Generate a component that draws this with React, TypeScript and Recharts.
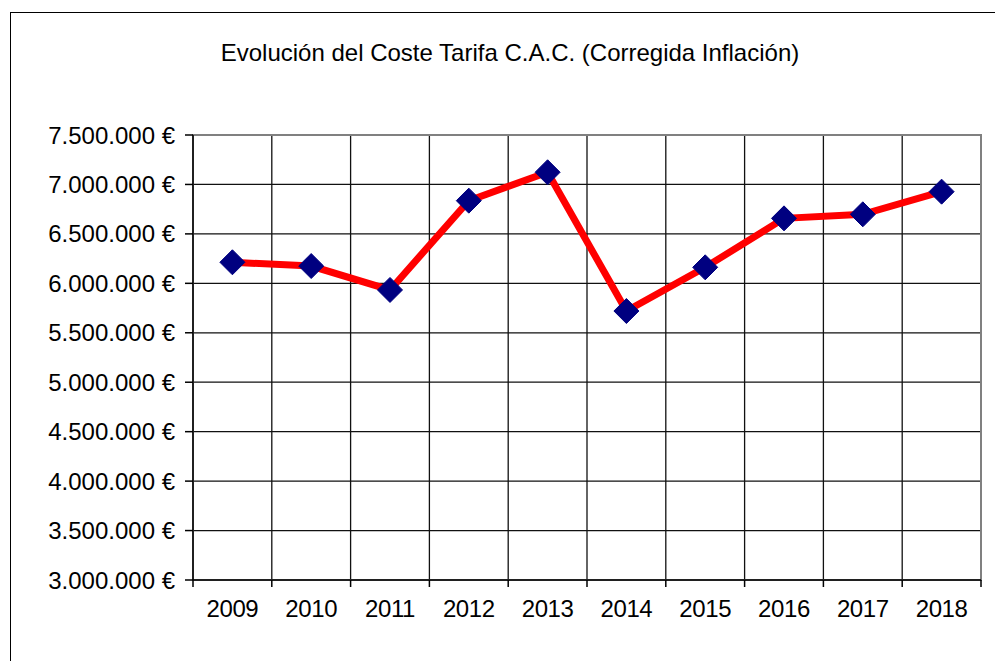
import React from 'react';
import { LineChart, Line, XAxis, YAxis, CartesianGrid, ReferenceArea } from 'recharts';

const years = ['2009', '2010', '2011', '2012', '2013', '2014', '2015', '2016', '2017', '2018'];
const costs = [6213000, 6175000, 5933000, 6836000, 7123000, 5720000, 6162000, 6657000, 6698000, 6927000];
const yTicks = [3000000, 3500000, 4000000, 4500000, 5000000, 5500000, 6000000, 6500000, 7000000, 7500000];
const xBoundaries = years.map((_, i) => i).concat([years.length]);
const title = 'Evolución del Coste Tarifa C.A.C. (Corregida Inflación)';

const data = years.map((year, i) => ({ pos: i + 0.5, year, cost: costs[i] }));

const W = 995;
const H = 661;
const LEFT = 193;
const RIGHT = 14;
const TOP = 135;
const BAND = (W - LEFT - RIGHT) / years.length;
const FONT = '"Liberation Sans", Arial, sans-serif';
const FS = 24;

const fmt = (v: number) => String(v).replace(/\B(?=(\d{3})+(?!\d))/g, '.') + ' €';

const YearTick = (props: any) => {
  const { x, y, payload } = props;
  const idx = payload.value;
  if (idx >= years.length) return null;
  return (
    <text x={x + BAND / 2} y={y + 28} textAnchor="middle" fontFamily={FONT} fontSize={FS} letterSpacing={-0.4} fill="#000">
      {years[idx]}
    </text>
  );
};

const Diamond = (props: any) => {
  const { cx, cy, index } = props;
  if (cx == null || cy == null) return null;
  const r = 12.5;
  return (
    <path
      key={`d-${index}`}
      d={`M${cx},${cy - r} L${cx + r},${cy} L${cx},${cy + r} L${cx - r},${cy} Z`}
      fill="#000080"
      stroke="#000080"
      strokeWidth={1}
    />
  );
};

export default function App() {
  return (
    <div style={{ position: 'absolute', left: 0, top: 0, width: W, height: H, overflow: 'hidden', background: '#fff' }}>
      <div
        style={{
          position: 'absolute',
          left: 10,
          top: 12,
          width: 1100,
          height: 800,
          border: '1.5px solid #000',
          boxSizing: 'border-box',
        }}
      />
      <div
        style={{
          position: 'absolute',
          left: 0,
          top: 41,
          width: 1020,
          textAlign: 'center',
          fontFamily: FONT,
          fontSize: FS,
          lineHeight: `${FS}px`,
          color: '#000',
          whiteSpace: 'nowrap',
        }}
      >
        {title}
      </div>
      <div style={{ position: 'absolute', left: 0, top: 0 }}>
        <LineChart width={W} height={H} data={data} margin={{ top: TOP, right: RIGHT, left: 0, bottom: 21 }}>
          <CartesianGrid stroke="#111" strokeWidth={1.3} />
          <ReferenceArea x1={0} x2={years.length} y1={3000000} y2={7500000} fill="none" stroke="#808080" strokeWidth={2} ifOverflow="visible" />
          <XAxis
            type="number"
            dataKey="pos"
            domain={[0, years.length]}
            ticks={xBoundaries}
            interval={0}
            tick={<YearTick />}
            tickSize={7}
            height={60}
            stroke="#000"
            strokeWidth={1.5}
            allowDataOverflow
          />
          <YAxis
            domain={[3000000, 7500000]}
            ticks={yTicks}
            interval={0}
            tickFormatter={fmt}
            width={LEFT}
            tickSize={8}
            tickMargin={10}
            stroke="#000"
            strokeWidth={1.5}
            tick={{ fill: '#000', fontFamily: FONT, fontSize: FS }}
            allowDataOverflow
          />
          <Line
            dataKey="cost"
            stroke="#ff0000"
            strokeWidth={7}
            dot={<Diamond />}
            activeDot={false}
            isAnimationActive={false}
          />
        </LineChart>
      </div>
    </div>
  );
}
